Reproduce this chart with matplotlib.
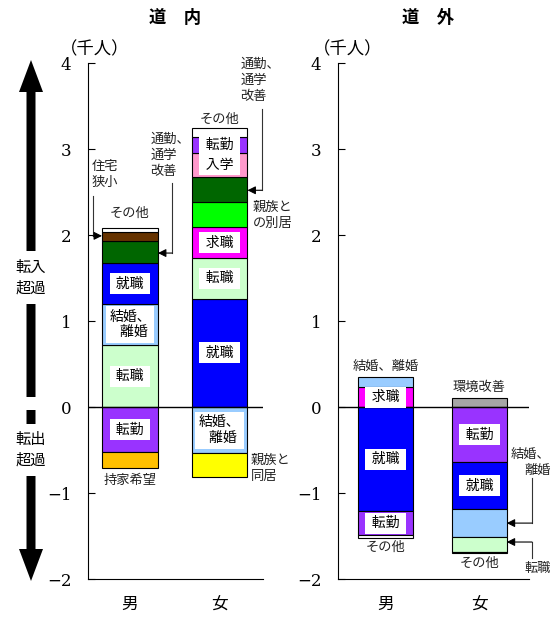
import matplotlib
matplotlib.use('Agg')
import matplotlib.pyplot as plt
from matplotlib.patches import FancyArrow, Rectangle

plt.rcParams['font.family'] = ['Noto Sans CJK JP', 'DejaVu Sans']

# reasons for moving, net inflow (+) / outflow (-), thousand people
lm_pos = ['転職', '結婚、離婚', '就職', '通勤、通学改善', '住宅狭小', 'その他']
lm_pos_v = [0.72, 0.48, 0.47, 0.26, 0.10, 0.05]
lm_neg = ['転勤', '持家希望']
lm_neg_v = [0.52, 0.19]

lf_pos = ['就職', '転職', '求職', '親族との別居', '通勤、通学改善', '入学', '転勤', 'その他']
lf_pos_v = [1.26, 0.47, 0.36, 0.29, 0.30, 0.27, 0.19, 0.10]
lf_neg = ['結婚、離婚', '親族と同居']
lf_neg_v = [0.54, 0.27]

rm_pos = ['求職', '結婚、離婚']
rm_pos_v = [0.23, 0.12]
rm_neg = ['就職', '転勤', 'その他']
rm_neg_v = [1.21, 0.28, 0.035]

rf_pos = ['環境改善']
rf_pos_v = [0.10]
rf_neg = ['転勤', '就職', '結婚、離婚', '転職', 'その他']
rf_neg_v = [0.64, 0.55, 0.32, 0.18, 0.01]

sexes = ['男', '女']

colors = {
    '転職': '#CCFFCC', '結婚、離婚': '#99CCFF', '就職': '#0000FF',
    '通勤、通学改善': '#006600', '住宅狭小': '#663300', 'その他': '#FFFFFF',
    '転勤': '#9933FF', '持家希望': '#FFC000', '求職': '#FF00FF',
    '親族との別居': '#00FF00', '入学': '#FF99CC', '親族と同居': '#FFFF00',
    '環境改善': '#A6A6A6',
}
# which segments carry their name inside the bar
inside_l = {'転職', '結婚、離婚', '就職', '転勤', '求職', '入学'}
inside_rm = {'求職', '就職', '転勤'}
inside_rf = {'就職', '転勤'}

W, H = 554, 617
fig = plt.figure(figsize=(W / 100, H / 100), dpi=100)


def px_axes(x0, x1, y0, y1):
    return fig.add_axes([x0 / W, 1 - y1 / H, (x1 - x0) / W, (y1 - y0) / H])


def stack(ax, x, names, vals, sign, width, labels):
    base = 0.0
    for n, v in zip(names, vals):
        ax.bar(x, sign * v, width, bottom=base, color=colors[n],
               edgecolor='black', linewidth=0.8, zorder=3)
        if n in labels:
            if n == '結婚、離婚':
                t = '結婚、\n\u2002離婚'
            else:
                t = '\u2009' + n + '\u2009'
            ax.text(x, base + sign * v / 2, t, ha='center', va='center',
                    fontsize=10, zorder=5, linespacing=1.15,
                    family=['Noto Sans CJK JP', 'DejaVu Sans'],
                    bbox=dict(boxstyle='square,pad=0.25', fc='white', ec='none'))
        base += sign * v
    return base


def style(ax, xlim):
    ax.set_xlim(*xlim)
    ax.set_ylim(-2, 4)
    ax.spines['top'].set_visible(False)
    ax.spines['right'].set_visible(False)
    ax.set_xticks([])
    ax.set_yticks(range(-2, 5))
    ax.set_yticklabels([str(v).replace('-', '\u2212') for v in range(-2, 5)],
                       family='DejaVu Serif', fontsize=12)
    ax.tick_params(axis='y', direction='in', length=5, pad=12)
    ax.axhline(0, color='black', lw=1, zorder=4)
    ax.patch.set_alpha(0)


txt = dict(fontsize=9.5, color='#222222')
arr = dict(arrowstyle='-|>', color='black', lw=0.8, mutation_scale=12,
           shrinkA=0, shrinkB=0)

# ---- 道内 ----
ax1 = px_axes(88, 263, 63, 579)
style(ax1, (-0.469, 1.486))
bw1 = 0.625
t_m = stack(ax1, 0, lm_pos, lm_pos_v, 1, bw1, inside_l)
b_m = stack(ax1, 0, lm_neg, lm_neg_v, -1, bw1, inside_l)
t_f = stack(ax1, 1, lf_pos, lf_pos_v, 1, bw1, inside_l)
b_f = stack(ax1, 1, lf_neg, lf_neg_v, -1, bw1, inside_l)

ax1.text(0, t_m + 0.1, 'その他', ha='center', va='bottom', **txt)
ax1.text(0, b_m - 0.07, '持家希望', ha='center', va='top', **txt)
ax1.text(1, t_f + 0.03, 'その他', ha='center', va='bottom', **txt)
ax1.text(1.35, -0.72, '親族と\n同居', ha='left', va='center', linespacing=1.3, **txt)
ax1.text(1.37, 2.23, '親族と\nの別居', ha='left', va='center', linespacing=1.3, **txt)

# 住宅狭小 arrow
ax1.text(-0.43, 2.7, '住宅\n狭小', ha='left', va='center', linespacing=1.3, **txt)
ax1.plot([-0.413, -0.413], [2.45, 1.99], color='#333333', lw=0.8, clip_on=False)
ax1.annotate('', xy=(-0.3125, 1.99), xytext=(-0.413, 1.99), arrowprops=arr)
# 通勤、通学改善 (男)
ax1.text(0.23, 2.93, '通勤、\n通学\n改善', ha='left', va='center', linespacing=1.3, **txt)
ax1.plot([0.47, 0.47], [2.6, 1.79], color='#333333', lw=0.8, clip_on=False)
ax1.annotate('', xy=(0.3125, 1.79), xytext=(0.47, 1.79), arrowprops=arr)
# 通勤、通学改善 (女)
ax1.text(1.23, 3.8, '通勤、\n通学\n改善', ha='left', va='center', linespacing=1.3,
         clip_on=False, **txt)
ax1.plot([1.475, 1.475], [3.46, 2.52], color='#333333', lw=0.8, clip_on=False)
ax1.annotate('', xy=(1.3125, 2.52), xytext=(1.475, 2.52), arrowprops=arr)

ax1.text(0.5, 1.07, '道\u3000内', transform=ax1.transAxes, ha='center',
         va='bottom', fontsize=12.5, fontweight='bold')
ax1.text(0.04, 1.01, '（千人）', transform=ax1.transAxes, ha='center',
         va='bottom', fontsize=12.5)
for i, s in enumerate(sexes):
    ax1.text(i, -2.3, s, ha='center', va='center', fontsize=12)

# ---- 道外 ----
ax2 = px_axes(338, 529, 63, 579)
style(ax2, (-0.505, 1.527))
bw2 = 0.585
t_m2 = stack(ax2, 0, rm_pos, rm_pos_v, 1, bw2, inside_rm)
b_m2 = stack(ax2, 0, rm_neg, rm_neg_v, -1, bw2, inside_rm)
t_f2 = stack(ax2, 1, rf_pos, rf_pos_v, 1, bw2, inside_rf)
b_f2 = stack(ax2, 1, rf_neg, rf_neg_v, -1, bw2, inside_rf)

ax2.text(0, t_m2 + 0.05, '結婚、離婚', ha='center', va='bottom', **txt)
ax2.text(0, b_m2 - 0.03, 'その他', ha='center', va='top', **txt)
ax2.text(1, t_f2 + 0.05, '環境改善', ha='center', va='bottom', **txt)
ax2.text(1, b_f2 - 0.04, 'その他', ha='center', va='top', **txt)

ax2.text(1.76, -0.65, '結婚、\n離婚', ha='right', va='center', linespacing=1.3,
         clip_on=False, **txt)
ax2.plot([1.559, 1.559], [-0.83, -1.35], color='#333333', lw=0.8, clip_on=False)
ax2.annotate('', xy=(1.29, -1.35), xytext=(1.559, -1.35), arrowprops=arr)
ax2.text(1.76, -1.88, '転職', ha='right', va='center', clip_on=False, **txt)
ax2.plot([1.559, 1.559], [-1.76, -1.57], color='#333333', lw=0.8, clip_on=False)
ax2.annotate('', xy=(1.29, -1.57), xytext=(1.559, -1.57), arrowprops=arr)

ax2.text(0.47, 1.07, '道\u3000外', transform=ax2.transAxes, ha='center',
         va='bottom', fontsize=12.5, fontweight='bold')
ax2.text(0.05, 1.01, '（千人）', transform=ax2.transAxes, ha='center',
         va='bottom', fontsize=12.5)
for i, s in enumerate(sexes):
    ax2.text(i, -2.3, s, ha='center', va='center', fontsize=12)

# ---- big arrow on the left ----
ov = fig.add_axes([0, 0, 1, 1], zorder=-1)
ov.set_xlim(0, W)
ov.set_ylim(H, 0)
ov.axis('off')
for y_end in (60, 581):
    ov.add_patch(FancyArrow(31, 402, 0, y_end - 402, width=9, head_width=24,
                            head_length=32, length_includes_head=True,
                            color='black', lw=0))
for y0, y1 in [(251, 304), (397, 410), (424, 476)]:
    ov.add_patch(Rectangle((10, y0), 45, y1 - y0, color='white', lw=0))
ov.text(31, 278, '転入\n超過', ha='center', va='center', fontsize=11, linespacing=1.25)
ov.text(31, 450, '転出\n超過', ha='center', va='center', fontsize=11, linespacing=1.25)

fig.savefig('out.png', dpi=100)
